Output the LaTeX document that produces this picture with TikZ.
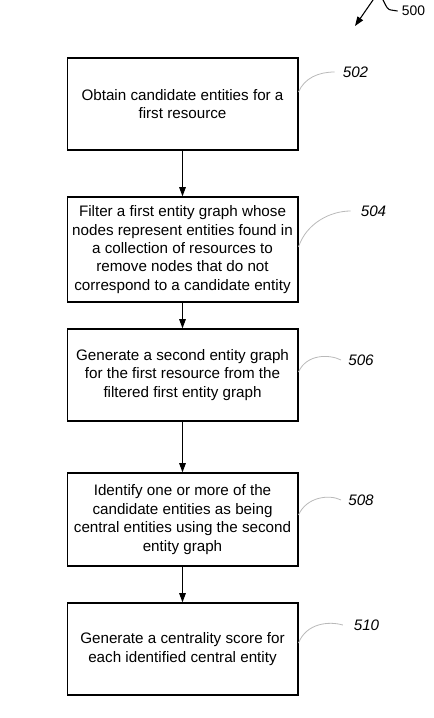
\documentclass[tikz,border=0pt]{standalone}
\usepackage{fontspec}
\setmainfont{Liberation Sans}
\usetikzlibrary{arrows.meta}

\begin{document}
\begin{tikzpicture}[x=0.75pt,y=-0.75pt,>={Triangle[length=7pt,width=5pt]},
    font=\fontsize{11.4}{13.8}\selectfont,
    stepbox/.style={draw,line width=1pt,align=center,minimum width=173pt,minimum height=69pt,inner sep=2pt},
    flow/.style={->,line width=0.8pt},
    leader/.style={gray!55,line width=0.6pt},
    refnum/.style={font=\fontsize{11.4}{13.8}\selectfont\itshape,inner sep=0pt}]

    \useasboundingbox (0,0) rectangle (433,718);

    % Figure reference
    \node [refnum,font=\fontsize{10.4}{12}\selectfont] (l500) at (413.5,11) {500};
    \coordinate (t500) at (355,26);
    \draw [flow] ([xshift=-3pt]l500.west) -- (391,10) .. controls (385,10) and (384,-4) .. (378,-5)
        .. controls (376,-5) and (375,-3) .. (373,0) -- (t500);

    % Steps
    \node [stepbox] (b502) at (182.5,104) {Obtain candidate entities for a\\first resource};
    \node [stepbox,minimum height=78.75pt] (b504) at (182.5,249.5) {Filter a first entity graph whose\\nodes represent entities found in\\a collection of resources to\\remove nodes that do not\\correspond to a candidate entity};
    \node [stepbox] (b506) at (182.5,375) {Generate a second entity graph\\for the first resource from the\\filtered first entity graph};
    \node [stepbox,minimum height=69.75pt] (b508) at (182.5,519.5) {Identify one or more of the\\candidate entities as being\\central entities using the second\\entity graph};
    \node [stepbox] (b510) at (182.5,649) {Generate a centrality score for\\each identified central entity};

    % Flow arrows
    \draw [flow] (b502) -- (b504);
    \draw [flow] (b504) -- (b506);
    \draw [flow] (b506) -- (b508);
    \draw [flow] (b508) -- (b510);

    % Step numbers
    \node [refnum] (l502) at (355.5,72) {502};
    \node [refnum] (l504) at (373.5,211) {504};
    \node [refnum] (l506) at (361,360) {506};
    \node [refnum] (l508) at (361,500) {508};
    \node [refnum] (l510) at (366.5,625) {510};

    % Leader curves
    \draw [leader] ([yshift=9pt]b502.east) .. controls +(6,-14) and +(-16,0) .. ([xshift=-6pt]l502.west);
    \draw [leader] ([yshift=1.9pt]b504.east) .. controls +(8,-24) and +(-20,0) .. ([xshift=-7.5pt]l504.west);
    \draw [leader] ([yshift=2.25pt]b506.east) .. controls +(8,-18) and +(-12,-6) .. ([xshift=-5.25pt]l506.west);
    \draw [leader] ([yshift=3.4pt]b508.east) .. controls +(8,-18) and +(-12,-6) .. ([xshift=-5.25pt]l508.west);
    \draw [leader] ([yshift=4.5pt]b510.east) .. controls +(8,-20) and +(-14,-4) .. ([xshift=-8pt]l510.west);

\end{tikzpicture}
\end{document}
